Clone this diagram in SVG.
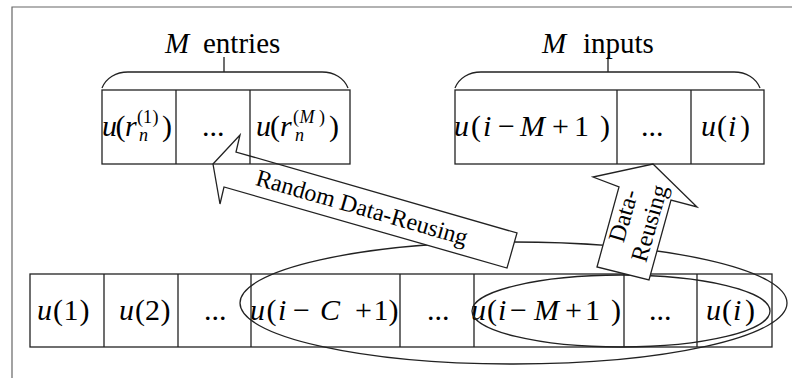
<svg xmlns="http://www.w3.org/2000/svg" width="792" height="378" viewBox="0 0 792 378">
<style>
.frame{fill:none;stroke:#666;stroke-width:1.2}
.ln{fill:none;stroke:#222;stroke-width:1.3}
.ar{fill:#fff;stroke:#222;stroke-width:1.3}
text{font-family:"Liberation Serif","Times New Roman",serif;fill:#000}
.m{font-size:30px}
.l{font-size:29px}
.i{font-style:italic}
.s{font-size:18px}
.a{font-size:24px}
</style>
<rect width="792" height="378" fill="#fff"/>
<path class="frame" d="M12,378 V7 H792"/>

<g id="bottom-row">
<rect class="ln" x="30" y="274" width="742" height="73"/>
<path class="ln" d="M104,274V347M178,274V347M251,274V347M400,274V347M474,274V347M624,274V347M697,274V347"/>
<text class="m" y="320"><tspan class="i" x="37">u</tspan><tspan x="53">(</tspan><tspan x="63.5">1</tspan><tspan x="79.5">)</tspan></text>
<text class="m" y="320"><tspan class="i" x="119">u</tspan><tspan x="135">(</tspan><tspan x="145">2</tspan><tspan x="160.5">)</tspan></text>
<text class="m" x="204" y="320">...</text>
<text class="m" y="320"><tspan class="i" x="250">u</tspan><tspan x="266.5">(</tspan><tspan class="i" x="278">i</tspan><tspan x="293">−</tspan><tspan class="i" x="320">C</tspan><tspan x="355">+</tspan><tspan x="373.5">1</tspan><tspan x="388.5">)</tspan></text>
<text class="m" x="427" y="320">...</text>
<text class="m" y="320"><tspan class="i" x="471">u</tspan><tspan x="487">(</tspan><tspan class="i" x="498">i</tspan><tspan x="510">−</tspan><tspan class="i" x="534">M</tspan><tspan x="565">+</tspan><tspan x="585">1</tspan><tspan x="611">)</tspan></text>
<text class="m" x="649" y="320">...</text>
<text class="m" y="320"><tspan class="i" x="706">u</tspan><tspan x="722">(</tspan><tspan class="i" x="733">i</tspan><tspan x="745">)</tspan></text>
</g>

<g id="connectors">
<ellipse class="ln" cx="513.5" cy="303" rx="273.5" ry="61"/>
<ellipse class="ln" cx="621" cy="311" rx="149" ry="36"/>
</g>

<g id="random-arrow">
<polygon class="ar" points="213,164 240,135 236,152 517,233 507,268 224,187 220,204"/>
<text class="a" text-anchor="middle" transform="translate(362,207.4) rotate(16.1)" x="0" y="8">Random Data-Reusing</text>
</g>

<g id="data-arrow">
<polygon class="ar" points="597,267 619,187 593,177 653,164 697,207 671,200 649,280"/>
<g transform="translate(623.5,273) rotate(-74)">
<text class="a" text-anchor="middle" x="55" y="-8">Data-</text>
<text class="a" text-anchor="middle" x="55" y="19">Reusing</text>
</g>
</g>

<g id="entries-block">
<rect class="ln" x="102" y="90" width="248" height="74"/>
<path class="ln" d="M176,90V164M250,90V164"/>
<path class="ln" d="M102,88 C106,78 116,72 128,72 H322 C334,72 344,78 348,88 M224,72 V57"/>
<text class="l" y="53"><tspan class="i" x="165">M</tspan><tspan x="203">entries</tspan></text>
<text class="m" y="136"><tspan class="i" x="102">u</tspan><tspan x="115.5">(</tspan><tspan class="i" x="125">r</tspan></text>
<text class="s" y="123"><tspan x="137">(</tspan><tspan x="143">1</tspan><tspan x="152.5">)</tspan></text>
<text class="s i" x="139" y="141">n</text>
<text class="m" x="162" y="136">)</text>
<text class="m" x="202" y="136">...</text>
<text class="m" y="136"><tspan class="i" x="256">u</tspan><tspan x="270">(</tspan><tspan class="i" x="280">r</tspan></text>
<text class="s" y="123"><tspan x="293">(</tspan><tspan class="i" x="299.5">M</tspan><tspan x="319">)</tspan></text>
<text class="s i" x="295" y="141">n</text>
<text class="m" x="329" y="136">)</text>
</g>

<g id="inputs-block">
<rect class="ln" x="455" y="90" width="309" height="74"/>
<path class="ln" d="M617,90V164M691,90V164"/>
<path class="ln" d="M455,88 C459,78 469,72 481,72 H734 C746,72 756,78 760,88 M608,72 V57"/>
<text class="l" y="53"><tspan class="i" x="542">M</tspan><tspan x="583">inputs</tspan></text>
<text class="m" y="136"><tspan class="i" x="454">u</tspan><tspan x="471">(</tspan><tspan class="i" x="483">i</tspan><tspan x="498">−</tspan><tspan class="i" x="520">M</tspan><tspan x="552">+</tspan><tspan x="574">1</tspan><tspan x="600">)</tspan></text>
<text class="m" x="641" y="136">...</text>
<text class="m" y="136"><tspan class="i" x="701">u</tspan><tspan x="717">(</tspan><tspan class="i" x="728">i</tspan><tspan x="740">)</tspan></text>
</g>
</svg>
